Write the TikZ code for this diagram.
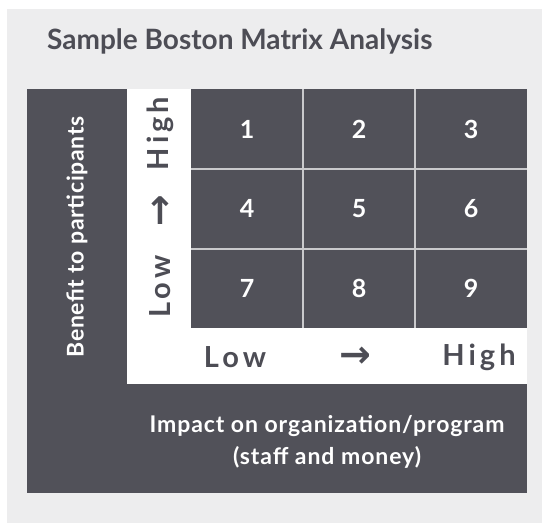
\documentclass[tikz,border=0pt]{standalone}
\usepackage{fontspec}
\setmainfont{Lato}
\newfontfamily\arrowfont{DejaVu Sans}
\definecolor{bggray}{HTML}{EDEDEE}
\definecolor{darkbox}{HTML}{515159}
\definecolor{titlegray}{HTML}{4D4D55}
\definecolor{gridgray}{HTML}{C9C9CC}
\tikzset{
  cell/.style={fill=darkbox, minimum width=112pt, minimum height=79.67pt, inner sep=0pt,
    text=white, font=\fontsize{25}{27}\selectfont\bfseries, anchor=north west},
  axislbl/.style={text=titlegray, inner sep=0pt, font=\fontsize{29}{31}\selectfont\bfseries\addfontfeatures{LetterSpace=14}},
  arrowlbl/.style={text=titlegray, inner sep=0pt, font=\fontsize{38}{40}\selectfont\arrowfont\bfseries},
  sep/.style={draw=gridgray, line width=2pt},
  whitelbl/.style={text=white, inner sep=0pt, font=\fontsize{23}{26}\selectfont\bfseries\addfontfeatures{LetterSpace=4}}
}
\begin{document}
\begin{tikzpicture}[x=1pt,y=-1pt]
\useasboundingbox (0,0) rectangle (542,523);
\fill[bggray] (7,9) rectangle (542,523);
\node[anchor=base west, inner sep=0pt, text=titlegray, font=\fontsize{28}{30}\selectfont\bfseries] (title) at (47,49) {Sample Boston Matrix Analysis};
\fill[darkbox] (27,89) rectangle (527,493);
\fill[white] (127,89) rectangle (527,384);
% cells
\node[cell] (c1) at (191,89) {1};
\node[cell] (c2) at (303,89) {2};
\node[cell] (c3) at (415,89) {3};
\node[cell] (c4) at (191,168.67) {4};
\node[cell] (c5) at (303,168.67) {5};
\node[cell] (c6) at (415,168.67) {6};
\node[cell] (c7) at (191,248.33) {7};
\node[cell] (c8) at (303,248.33) {8};
\node[cell] (c9) at (415,248.33) {9};
% separators
\draw[sep] (c1.north east) -- (c7.south east);
\draw[sep] (c2.north east) -- (c8.south east);
\draw[sep] (c1.south west) -- (c3.south east);
\draw[sep] (c4.south west) -- (c6.south east);
% left labels
\node[whitelbl, rotate=90, font=\fontsize{23}{26}\selectfont\bfseries\addfontfeatures{LetterSpace=3}] (benefit) at (77,237) {Benefit to participants};
\node[axislbl, rotate=90] (vhigh) at (160,133.5) {High};
\node[arrowlbl] (varrow) at (160,211) {↑};
\node[axislbl, rotate=90] (vlow) at (160,286.5) {Low};
% bottom labels
\node[axislbl] (hlow) at (235,357.5) {Low};
\node[arrowlbl] (harrow) at (355,357.5) {→};
\node[axislbl] (hhigh) at (479,357.5) {High};
\node[whitelbl, anchor=base] (impact1) at (327,432) {Impact on organization/program};
\node[whitelbl, anchor=base] (impact2) at (327,464) {(staff and money)};
\end{tikzpicture}
\end{document}
